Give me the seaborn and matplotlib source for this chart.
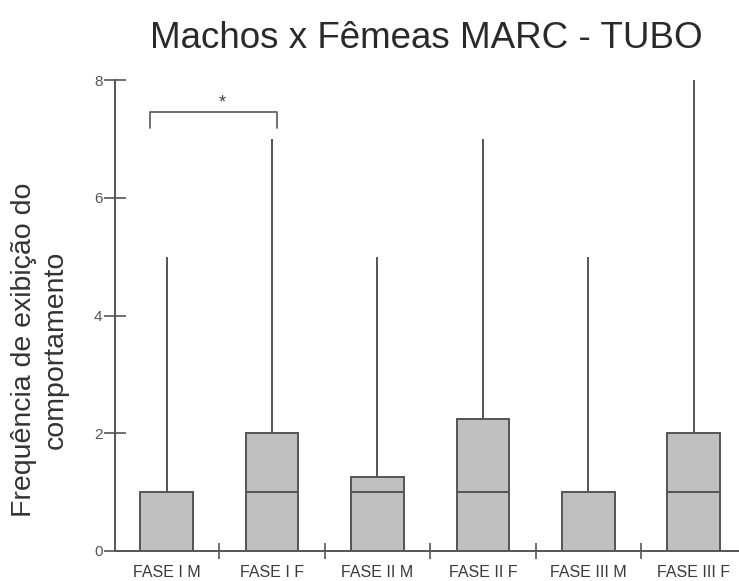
import matplotlib
matplotlib.use("Agg")
import matplotlib.pyplot as plt
import seaborn as sns
import pandas as pd
import numpy as np

categories = ["FASE I M", "FASE I F", "FASE II M", "FASE II F", "FASE III M", "FASE III F"]
q1 = [0, 0, 0, 0, 0, 0]
median = [0, 1, 1, 1, 0, 1]
q3 = [1, 2, 1.25, 2.25, 1, 2]
whisker_max = [5, 7, 5, 7, 5, 8]
y_ticks = [0, 2, 4, 6, 8]

sns.set_theme(style="white")
plt.rcParams['font.family'] = ['Liberation Sans', 'DejaVu Sans']

fig = plt.figure(figsize=(7.39, 5.81), dpi=100)
ax = fig.add_axes([115/739, 30/581, 1 - 115/739, 471/581])

df = pd.DataFrame({"cat": categories, "q1": q1, "med": median, "q3": q3, "wmax": whisker_max})
df["height"] = df["q3"] - df["q1"]

edge = "#555555"
sns.barplot(data=df, x="cat", y="height", bottom=df["q1"], color="#c0c0c0",
            saturation=1, width=0.5, edgecolor=edge, linewidth=1.4, ax=ax, zorder=2)

pos = np.arange(len(categories))
ax.vlines(pos, df["q3"], df["wmax"], color=edge, linewidth=1.4, zorder=1)
ax.hlines(df["med"], pos - 0.25, pos + 0.25, color=edge, linewidth=1.4, zorder=3)

ax.set_xlim(-0.49, 5.43)
ax.set_ylim(0, 8)
ax.set_yticks(y_ticks)
ax.set_yticklabels([str(t) for t in y_ticks], fontsize=11, color="#555555")
ax.set_xticks(pos)
ax.set_xticklabels(categories, fontsize=11.5, color="#3a3a3a")
ax.set_xticks(pos[:-1] + 0.5, minor=True)
ax.tick_params(axis="x", which="major", length=0, pad=10)
ax.tick_params(axis="x", which="minor", direction="inout", length=11, width=1.2, color=edge, bottom=True)
ax.tick_params(axis="y", direction="inout", length=16, width=1.2, color=edge, left=True, pad=1)
for s in ["top", "right"]:
    ax.spines[s].set_visible(False)
for s in ["left", "bottom"]:
    ax.spines[s].set_color(edge)
    ax.spines[s].set_linewidth(1.4)
ax.set_xlabel("")
ax.set_ylabel("")

# significance bracket
ax.plot([-0.156, -0.156, 1.05, 1.05], [7.18, 7.45, 7.45, 7.18], color="#666666", linewidth=1.3, clip_on=False)
ax.text(0.53, 7.47, "*", ha="center", va="bottom", fontsize=13, color="#444444")

fig.text(426/739, 1 - 38/581, "Machos x Fêmeas MARC - TUBO", ha="center", va="center", fontsize=26.5, color="#2a2a2a")
fig.text(24/739, 1 - 350/581, "Frequência de exibição do", rotation=90, ha="center", va="center", fontsize=20.5, color="#333333")
fig.text(56/739, 1 - 350/581, "comportamento", rotation=90, ha="center", va="center", fontsize=20.5, color="#333333")

fig.savefig("out.png", dpi=100, facecolor="white")
